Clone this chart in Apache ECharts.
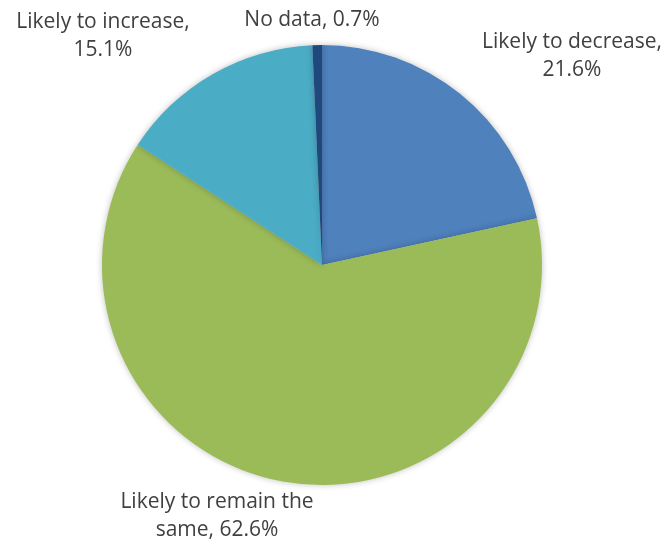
<!DOCTYPE html>
<html lang="en" style="height: 100%">
<head>
  <meta charset="utf-8">
</head>
<body style="height: 100%; margin: 0; background: #fff">
  <div id="container" style="height: 100%"></div>
  <script src="https://cdn.jsdelivr.net/npm/echarts@6/dist/echarts.min.js"></script>
  <script type="text/javascript">
    var categories = ['Likely to decrease', 'Likely to remain the same', 'Likely to increase', 'No data'];
    var values = [21.6, 62.6, 15.1, 0.7];
    var labelTexts = ['Likely to decrease,\n21.6%', 'Likely to remain the\nsame, 62.6%', 'Likely to increase,\n15.1%', 'No data, 0.7%'];
    var colors = ['#4F81BD', '#9BBB59', '#4BACC6', '#1F497D'];
    // where each label sits (centre of text block)
    var labelSpots = [[572, 56], [217, 516], [103, 36], [312, 20]];

    var dom = document.getElementById('container');
    var myChart = echarts.init(dom, null, { renderer: 'canvas' });

    var option = {
      animation: false,
      series: [
        {
          type: 'pie',
          center: [322, 265],
          radius: 220,
          startAngle: 90,
          clockwise: true,
          data: categories.map(function (c, i) {
            return {
              name: c,
              value: values[i],
              itemStyle: { color: colors[i] },
              label: { formatter: labelTexts[i] }
            };
          }),
          itemStyle: {
            borderWidth: 0,
            shadowBlur: 6,
            shadowColor: 'rgba(0,0,0,0.25)'
          },
          label: {
            show: true,
            position: 'outside',
            color: '#404040',
            fontFamily: 'Open Sans',
            fontSize: 21,
            lineHeight: 28,
            align: 'center',
            overflow: 'none'
          },
          labelLine: { show: false },
          labelLayout: function (p) {
            var s = labelSpots[p.dataIndex];
            return { x: s[0], y: s[1], align: 'center', verticalAlign: 'middle' };
          }
        }
      ]
    };
    myChart.setOption(option);
    window.addEventListener('resize', myChart.resize);
  </script>
</body>
</html>
